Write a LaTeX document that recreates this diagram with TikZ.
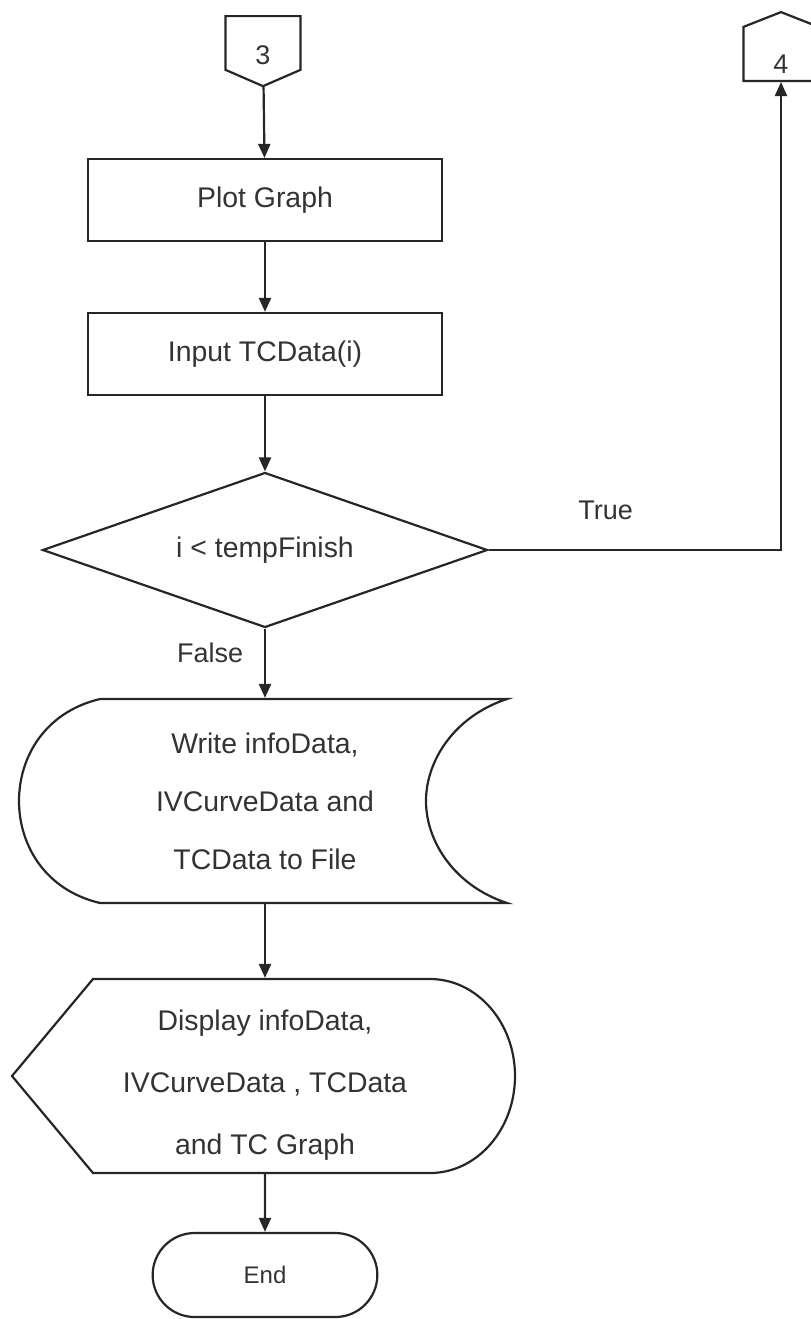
\documentclass[tikz,border=0pt]{standalone}
\usepackage{fontspec}
\setmainfont{Liberation Sans}
\usetikzlibrary{arrows.meta,shapes.geometric,shapes.symbols,shapes.misc}

\begin{document}
\begin{tikzpicture}[x=0.5pt,y=-0.5pt,>={Triangle[length=7pt,width=6pt]},
  line width=1.1pt,draw=black!85,
  every node/.style={text=black!80,font=\fontsize{14.2}{29}\selectfont},
  box node/.style={rectangle,draw,minimum width=177pt,minimum height=41pt,inner sep=0pt},
  test node/.style={diamond,draw,aspect=2.9,minimum width=222.5pt,minimum height=77.5pt,inner sep=0pt},
  page node/.style={signal,draw,signal from=nowhere,minimum width=37.5pt,minimum height=28.5pt,
    inner sep=0pt,font=\fontsize{13.5}{16}\selectfont},
  end node/.style={rounded rectangle,draw,minimum width=119pt,minimum height=42pt,
    font=\fontsize{12}{14}\selectfont}]

  \useasboundingbox (0,0) rectangle (810,1319);

  \node[page node,signal to=south,signal pointer angle=133,anchor=north] (c3) at (263,15) {\raisebox{-6pt}[9.5pt][0pt]{3}};
  \node[box node] (plot) at (265,200) {Plot Graph};
  \node[box node] (input) at (265,354) {Input TCData(i)};
  \node[test node] (test) at (265,550) {i < tempFinish};
  \node[align=center,minimum width=200pt,minimum height=102pt,inner sep=0pt] (store) at (265,801)
    {Write infoData,\\IVCurveData and\\TCData to File};
  \node[minimum width=200pt,minimum height=97pt,inner sep=0pt] (show) at (265,1076) {};
  \node[align=center,font=\fontsize{14.2}{31}\selectfont] (showtext) at (265,1085)
    {Display infoData,\\IVCurveData , TCData\\and TC Graph};
  \node[end node] (end) at (265,1275) {End};
  \node[page node,signal to=north,signal pointer angle=137,anchor=south] (c4) at (781,82) {\raisebox{-5pt}[9.5pt][0pt]{4}};

  % outlines of the file and display symbols
  \draw (100,699) -- (507,699)
    .. controls (455,716) and (426,760) .. (426,801)
    .. controls (426,842) and (455,886) .. (507,903)
    -- (100,903)
    .. controls (45,890) and (19,845) .. (19,801)
    .. controls (19,757) and (45,712) .. (100,699) -- cycle;
  \draw (12,1076) -- (93,979) -- (430,979)
    arc[start angle=-90,end angle=90,x radius=85,y radius=97]
    -- (93,1173) -- cycle;

  \path[->,every node/.style={text=black!80,font=\fontsize{13.5}{16}\selectfont}]
    (c3) edge (plot)
    (plot) edge (input)
    (input) edge (test)
    (test) edge node[pos=0.35,left,xshift=-7pt] {False} (store)
    (store) edge (show)
    (show) edge (end);
  \draw[->] (test.east) -| node[pos=0.2,above=11pt,text=black!80,font=\fontsize{13.5}{16}\selectfont] {True} (c4.south);
\end{tikzpicture}
\end{document}
